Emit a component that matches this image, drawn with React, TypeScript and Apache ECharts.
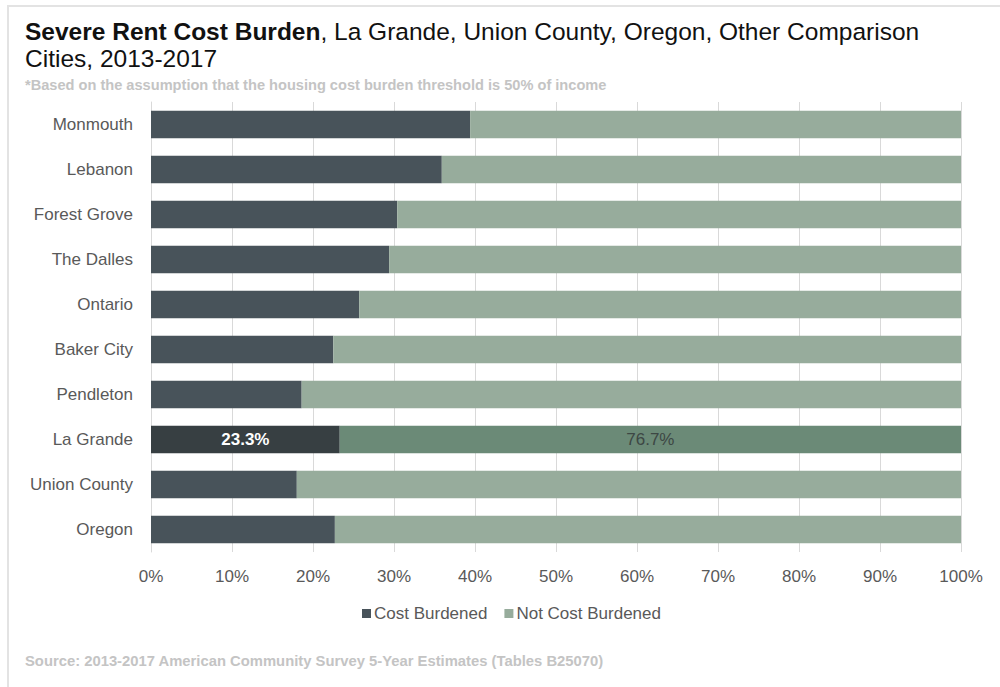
import React, { useEffect, useRef } from "react";
import * as echarts from "echarts";

const categories = ["Monmouth", "Lebanon", "Forest Grove", "The Dalles", "Ontario", "Baker City", "Pendleton", "La Grande", "Union County", "Oregon"];
const burdened = [39.4, 35.9, 30.4, 29.4, 25.7, 22.5, 18.6, 23.3, 18.0, 22.7];
const notBurdened = [60.6, 64.1, 69.6, 70.6, 74.3, 77.5, 81.4, 76.7, 82.0, 77.3];
const highlight = "La Grande";
const seriesNames = ["Cost Burdened", "Not Cost Burdened"];

const NARROW = "'Liberation Sans Narrow', 'Arial Narrow', 'Liberation Sans', sans-serif";
const SANS = "'Liberation Sans', Arial, sans-serif";

export default function App() {
  const ref = useRef<HTMLDivElement>(null);
  useEffect(() => {
    if (!ref.current) return;
    const chart = echarts.init(ref.current, null, { renderer: "svg" });
    const darkData = burdened.map((v, i) =>
      categories[i] === highlight
        ? {
            value: v,
            itemStyle: { color: "#373F42" },
            label: { show: true, color: "#ffffff", fontWeight: "bold", formatter: "{c}%" },
          }
        : v
    );
    const lightData = notBurdened.map((v, i) =>
      categories[i] === highlight
        ? {
            value: v,
            itemStyle: { color: "#6B8A77" },
            label: { show: true, color: "#3d4744", formatter: "{c}%" },
          }
        : v
    );
    chart.setOption({
      animation: false,
      backgroundColor: "#ffffff",
      title: {
        text: "{b|Severe Rent Cost Burden}{r|, La Grande, Union County, Oregon, Other Comparison}\n{r|Cities, 2013-2017}",
        left: 20,
        top: 13,
        textStyle: {
          fontWeight: "normal",
          rich: {
            b: { fontFamily: SANS, fontSize: 24.5, fontWeight: "bold", color: "#111111", lineHeight: 27 },
            r: { fontFamily: SANS, fontSize: 24.5, fontWeight: "normal", color: "#111111", lineHeight: 27 },
          },
        },
      },
      graphic: [
        {
          type: "text",
          left: 25,
          top: 77,
          style: {
            text: "*Based on the assumption that the housing cost burden threshold is 50% of income",
            fontFamily: NARROW,
            fontSize: 14.6,
            fontWeight: "bold",
            fill: "#c4c4c4",
          },
        },
        {
          type: "text",
          left: 25,
          top: 653,
          style: {
            text: "Source: 2013-2017 American Community Survey 5-Year Estimates (Tables B25070)",
            fontFamily: NARROW,
            fontSize: 14.8,
            fontWeight: "bold",
            fill: "#c4c4c4",
          },
        },
        {
          type: "polyline",
          shape: { points: [[1001, 6], [8, 6], [8, 690]] },
          style: { stroke: "#e3e3e3", lineWidth: 2, fill: "none" },
        },
      ],
      legend: {
        data: seriesNames,
        left: 357,
        top: 600,
        itemWidth: 9,
        itemHeight: 9,
        itemGap: 17,
        icon: "rect",
        textStyle: { fontFamily: NARROW, fontSize: 17, color: "#595959", padding: [0, 0, 0, -2] },
      },
      grid: { left: 151, right: 39, top: 102, bottom: 135, containLabel: false },
      xAxis: {
        type: "value",
        min: 0,
        max: 100,
        interval: 10,
        axisLabel: { formatter: "{value}%", fontFamily: NARROW, fontSize: 17, color: "#595959", margin: 16 },
        axisLine: { show: false },
        axisTick: { show: false },
        splitLine: { show: true, lineStyle: { color: "#d9d9d9", width: 1 } },
      },
      yAxis: {
        type: "category",
        data: categories,
        inverse: true,
        axisLabel: { fontFamily: NARROW, fontSize: 17, color: "#595959", margin: 18 },
        axisLine: { show: true, lineStyle: { color: "#d9d9d9" } },
        axisTick: { show: false },
      },
      series: [
        {
          name: seriesNames[0],
          type: "bar",
          stack: "total",
          barWidth: "61%",
          itemStyle: { color: "#48535A" },
          label: { show: false, position: "inside", fontFamily: NARROW, fontSize: 17 },
          data: darkData,
        },
        {
          name: seriesNames[1],
          type: "bar",
          stack: "total",
          barWidth: "61%",
          itemStyle: { color: "#97AC9C" },
          label: { show: false, position: "inside", fontFamily: NARROW, fontSize: 17 },
          data: lightData,
        },
      ],
    });
    return () => chart.dispose();
  }, []);
  return (
    <div
      ref={ref}
      style={{ position: "fixed", left: 0, top: 0, width: 1000, height: 687 }}
    />
  );
}
